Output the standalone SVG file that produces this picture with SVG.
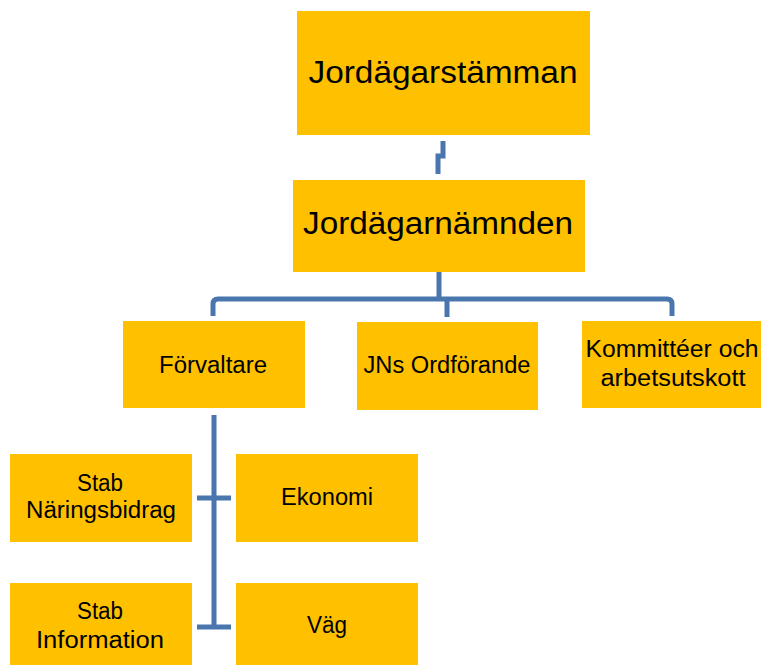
<svg xmlns="http://www.w3.org/2000/svg" width="761" height="665" viewBox="0 0 761 665">
<style>
.box{fill:#FFC000;}
.t{font-family:"Liberation Sans",Arial,sans-serif;fill:#000;text-anchor:middle;}
.big{font-size:31px;}
.sm{font-size:23px;}
.c{fill:none;stroke:#4A76AE;stroke-width:5;}
</style>
<rect width="761" height="665" fill="#fff"/>
<g id="connectors">
<path class="c" d="M443,141 V156 H438 V174"/>
<path class="c" d="M439,272 V300"/>
<path class="c" d="M213,316 V304 Q213,299 218,299 H667 Q672,299 672,304 V316"/>
<path class="c" d="M447,299 V317"/>
<path class="c" d="M214,415 V629"/>
<path class="c" d="M197,498 H231"/>
<path class="c" d="M197,627 H231"/>
</g>
<g id="jordagarstamman">
<rect class="box" x="297" y="11" width="293" height="124"/>
<text class="t big" x="443" y="83" textLength="269" lengthAdjust="spacingAndGlyphs">Jordägarstämman</text>
</g>
<g id="jordagarnamnden">
<rect class="box" x="293" y="180" width="292" height="92"/>
<text class="t big" x="438" y="234" textLength="270" lengthAdjust="spacingAndGlyphs">Jordägarnämnden</text>
</g>
<g id="forvaltare">
<rect class="box" x="123" y="321" width="182" height="87"/>
<text class="t sm" x="213" y="373" textLength="108" lengthAdjust="spacingAndGlyphs">Förvaltare</text>
</g>
<g id="jns-ordforande">
<rect class="box" x="357" y="322" width="181" height="88"/>
<text class="t sm" x="447" y="373" textLength="167" lengthAdjust="spacingAndGlyphs">JNs Ordförande</text>
</g>
<g id="kommitteer">
<rect class="box" x="582" y="321" width="184" height="87"/>
<text class="t sm" x="672" y="357" textLength="173" lengthAdjust="spacingAndGlyphs">Kommittéer och</text>
<text class="t sm" x="673" y="386" textLength="145" lengthAdjust="spacingAndGlyphs">arbetsutskott</text>
</g>
<g id="stab-naringsbidrag">
<rect class="box" x="10" y="454" width="182" height="88"/>
<text class="t sm" x="100" y="491" textLength="46" lengthAdjust="spacingAndGlyphs">Stab</text>
<text class="t sm" x="101" y="518" textLength="150" lengthAdjust="spacingAndGlyphs">Näringsbidrag</text>
</g>
<g id="ekonomi">
<rect class="box" x="236" y="454" width="182" height="88"/>
<text class="t sm" x="327" y="505" textLength="92" lengthAdjust="spacingAndGlyphs">Ekonomi</text>
</g>
<g id="stab-information">
<rect class="box" x="10" y="583" width="182" height="90"/>
<text class="t sm" x="100" y="619" textLength="46" lengthAdjust="spacingAndGlyphs">Stab</text>
<text class="t sm" x="100" y="648" textLength="128" lengthAdjust="spacingAndGlyphs">Information</text>
</g>
<g id="vag">
<rect class="box" x="236" y="583" width="182" height="90"/>
<text class="t sm" x="327" y="633" textLength="40" lengthAdjust="spacingAndGlyphs">Väg</text>
</g>
</svg>
